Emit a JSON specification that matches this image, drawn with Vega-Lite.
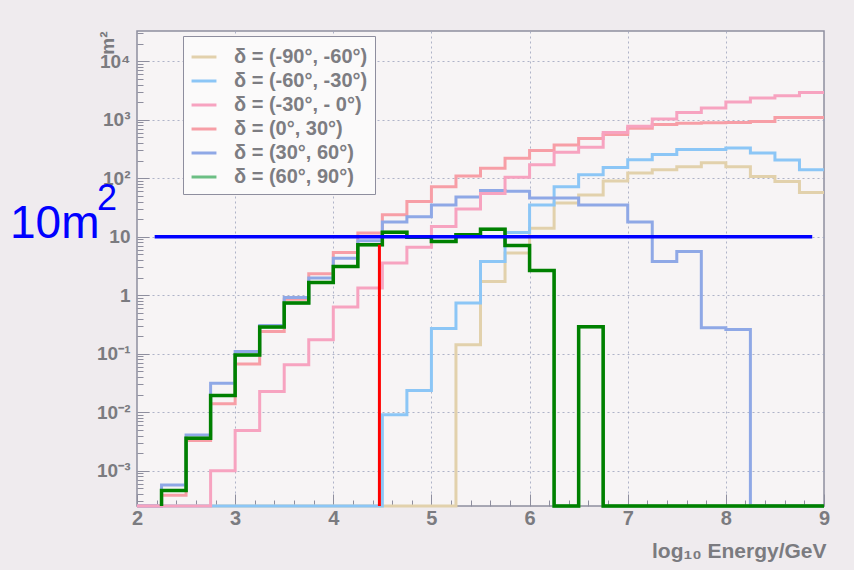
{
  "$schema": "https://vega.github.io/schema/vega-lite/v6.json",
  "width": 687,
  "height": 475,
  "autosize": {"type": "none"},
  "padding": {"left": 137, "top": 31, "right": 30, "bottom": 64},
  "background": "#efebee",
  "config": {
    "view": {"fill": "#f7f4f5", "stroke": "#8e8e9e", "strokeWidth": 1.5},
    "font": "Liberation Sans",
    "axis": {"labelFont": "Liberation Sans", "labelFontWeight": "bold", "labelColor": "#7b7b80", "tickColor": "#8e8e9e", "domain": false, "titleFont": "Liberation Sans", "titleColor": "#7b7b80", "titleFontWeight": "bold"}
  },
  "datasets": {
    "h": [
      {"s": "(-90°, -60°)", "x": 2, "v": 0.00025},
      {"s": "(-90°, -60°)", "x": 2.25, "v": 0.00025},
      {"s": "(-90°, -60°)", "x": 2.5, "v": 0.00025},
      {"s": "(-90°, -60°)", "x": 2.75, "v": 0.00025},
      {"s": "(-90°, -60°)", "x": 3, "v": 0.00025},
      {"s": "(-90°, -60°)", "x": 3.25, "v": 0.00025},
      {"s": "(-90°, -60°)", "x": 3.5, "v": 0.00025},
      {"s": "(-90°, -60°)", "x": 3.75, "v": 0.00025},
      {"s": "(-90°, -60°)", "x": 4, "v": 0.00025},
      {"s": "(-90°, -60°)", "x": 4.25, "v": 0.00025},
      {"s": "(-90°, -60°)", "x": 4.5, "v": 0.00025},
      {"s": "(-90°, -60°)", "x": 4.75, "v": 0.00025},
      {"s": "(-90°, -60°)", "x": 5, "v": 0.00025},
      {"s": "(-90°, -60°)", "x": 5.25, "v": 0.143},
      {"s": "(-90°, -60°)", "x": 5.5, "v": 1.72},
      {"s": "(-90°, -60°)", "x": 5.75, "v": 5.3},
      {"s": "(-90°, -60°)", "x": 6, "v": 14},
      {"s": "(-90°, -60°)", "x": 6.25, "v": 38},
      {"s": "(-90°, -60°)", "x": 6.5, "v": 52},
      {"s": "(-90°, -60°)", "x": 6.75, "v": 90},
      {"s": "(-90°, -60°)", "x": 7, "v": 123},
      {"s": "(-90°, -60°)", "x": 7.25, "v": 140},
      {"s": "(-90°, -60°)", "x": 7.5, "v": 157},
      {"s": "(-90°, -60°)", "x": 7.75, "v": 184},
      {"s": "(-90°, -60°)", "x": 8, "v": 157},
      {"s": "(-90°, -60°)", "x": 8.25, "v": 107},
      {"s": "(-90°, -60°)", "x": 8.5, "v": 88},
      {"s": "(-90°, -60°)", "x": 8.75, "v": 57},
      {"s": "(-90°, -60°)", "x": 9, "v": 57},

      {"s": "(-60°, -30°)", "x": 2, "v": 0.00025},
      {"s": "(-60°, -30°)", "x": 2.25, "v": 0.00025},
      {"s": "(-60°, -30°)", "x": 2.5, "v": 0.00025},
      {"s": "(-60°, -30°)", "x": 2.75, "v": 0.00025},
      {"s": "(-60°, -30°)", "x": 3, "v": 0.00025},
      {"s": "(-60°, -30°)", "x": 3.25, "v": 0.00025},
      {"s": "(-60°, -30°)", "x": 3.5, "v": 0.00025},
      {"s": "(-60°, -30°)", "x": 3.75, "v": 0.00025},
      {"s": "(-60°, -30°)", "x": 4, "v": 0.00025},
      {"s": "(-60°, -30°)", "x": 4.25, "v": 0.00025},
      {"s": "(-60°, -30°)", "x": 4.5, "v": 0.0091},
      {"s": "(-60°, -30°)", "x": 4.75, "v": 0.0236},
      {"s": "(-60°, -30°)", "x": 5, "v": 0.27},
      {"s": "(-60°, -30°)", "x": 5.25, "v": 0.74},
      {"s": "(-60°, -30°)", "x": 5.5, "v": 3.8},
      {"s": "(-60°, -30°)", "x": 5.75, "v": 11.9},
      {"s": "(-60°, -30°)", "x": 6, "v": 35},
      {"s": "(-60°, -30°)", "x": 6.25, "v": 72},
      {"s": "(-60°, -30°)", "x": 6.5, "v": 115},
      {"s": "(-60°, -30°)", "x": 6.75, "v": 153},
      {"s": "(-60°, -30°)", "x": 7, "v": 207},
      {"s": "(-60°, -30°)", "x": 7.25, "v": 255},
      {"s": "(-60°, -30°)", "x": 7.5, "v": 310},
      {"s": "(-60°, -30°)", "x": 7.75, "v": 310},
      {"s": "(-60°, -30°)", "x": 8, "v": 330},
      {"s": "(-60°, -30°)", "x": 8.25, "v": 272},
      {"s": "(-60°, -30°)", "x": 8.5, "v": 205},
      {"s": "(-60°, -30°)", "x": 8.75, "v": 140},
      {"s": "(-60°, -30°)", "x": 9, "v": 140},

      {"s": "(0°, 30°)", "x": 2, "v": 0.00025},
      {"s": "(0°, 30°)", "x": 2.25, "v": 0.00038},
      {"s": "(0°, 30°)", "x": 2.5, "v": 0.0033},
      {"s": "(0°, 30°)", "x": 2.75, "v": 0.014},
      {"s": "(0°, 30°)", "x": 3, "v": 0.067},
      {"s": "(0°, 30°)", "x": 3.25, "v": 0.24},
      {"s": "(0°, 30°)", "x": 3.5, "v": 0.86},
      {"s": "(0°, 30°)", "x": 3.75, "v": 2.33},
      {"s": "(0°, 30°)", "x": 4, "v": 5.4},
      {"s": "(0°, 30°)", "x": 4.25, "v": 11.6},
      {"s": "(0°, 30°)", "x": 4.5, "v": 23.8},
      {"s": "(0°, 30°)", "x": 4.75, "v": 40},
      {"s": "(0°, 30°)", "x": 5, "v": 72},
      {"s": "(0°, 30°)", "x": 5.25, "v": 110},
      {"s": "(0°, 30°)", "x": 5.5, "v": 149},
      {"s": "(0°, 30°)", "x": 5.75, "v": 221},
      {"s": "(0°, 30°)", "x": 6, "v": 300},
      {"s": "(0°, 30°)", "x": 6.25, "v": 370},
      {"s": "(0°, 30°)", "x": 6.5, "v": 480},
      {"s": "(0°, 30°)", "x": 6.75, "v": 560},
      {"s": "(0°, 30°)", "x": 7, "v": 720},
      {"s": "(0°, 30°)", "x": 7.25, "v": 830},
      {"s": "(0°, 30°)", "x": 7.5, "v": 870},
      {"s": "(0°, 30°)", "x": 7.75, "v": 890},
      {"s": "(0°, 30°)", "x": 8, "v": 900},
      {"s": "(0°, 30°)", "x": 8.25, "v": 935},
      {"s": "(0°, 30°)", "x": 8.5, "v": 1100},
      {"s": "(0°, 30°)", "x": 8.75, "v": 1100},
      {"s": "(0°, 30°)", "x": 9, "v": 1100},

      {"s": "(30°, 60°)", "x": 2, "v": 0.00025},
      {"s": "(30°, 60°)", "x": 2.25, "v": 0.00057},
      {"s": "(30°, 60°)", "x": 2.5, "v": 0.0041},
      {"s": "(30°, 60°)", "x": 2.75, "v": 0.0315},
      {"s": "(30°, 60°)", "x": 3, "v": 0.11},
      {"s": "(30°, 60°)", "x": 3.25, "v": 0.305},
      {"s": "(30°, 60°)", "x": 3.5, "v": 0.92},
      {"s": "(30°, 60°)", "x": 3.75, "v": 1.97},
      {"s": "(30°, 60°)", "x": 4, "v": 4.3},
      {"s": "(30°, 60°)", "x": 4.25, "v": 8.6},
      {"s": "(30°, 60°)", "x": 4.5, "v": 18},
      {"s": "(30°, 60°)", "x": 4.75, "v": 22},
      {"s": "(30°, 60°)", "x": 5, "v": 35},
      {"s": "(30°, 60°)", "x": 5.25, "v": 48},
      {"s": "(30°, 60°)", "x": 5.5, "v": 62},
      {"s": "(30°, 60°)", "x": 5.75, "v": 60},
      {"s": "(30°, 60°)", "x": 6, "v": 46},
      {"s": "(30°, 60°)", "x": 6.25, "v": 46},
      {"s": "(30°, 60°)", "x": 6.5, "v": 35},
      {"s": "(30°, 60°)", "x": 6.75, "v": 35},
      {"s": "(30°, 60°)", "x": 7, "v": 18},
      {"s": "(30°, 60°)", "x": 7.25, "v": 3.8},
      {"s": "(30°, 60°)", "x": 7.5, "v": 5.6},
      {"s": "(30°, 60°)", "x": 7.75, "v": 0.28},
      {"s": "(30°, 60°)", "x": 8, "v": 0.26},
      {"s": "(30°, 60°)", "x": 8.25, "v": 0.00025},
      {"s": "(30°, 60°)", "x": 8.5, "v": 0.00025},
      {"s": "(30°, 60°)", "x": 8.75, "v": 0.00025},
      {"s": "(30°, 60°)", "x": 9, "v": 0.00025},

      {"s": "(-30°, - 0°)", "x": 2, "v": 0.00025},
      {"s": "(-30°, - 0°)", "x": 2.25, "v": 0.00025},
      {"s": "(-30°, - 0°)", "x": 2.5, "v": 0.00025},
      {"s": "(-30°, - 0°)", "x": 2.75, "v": 0.001},
      {"s": "(-30°, - 0°)", "x": 3, "v": 0.0049},
      {"s": "(-30°, - 0°)", "x": 3.25, "v": 0.0227},
      {"s": "(-30°, - 0°)", "x": 3.5, "v": 0.065},
      {"s": "(-30°, - 0°)", "x": 3.75, "v": 0.173},
      {"s": "(-30°, - 0°)", "x": 4, "v": 0.63},
      {"s": "(-30°, - 0°)", "x": 4.25, "v": 1.33},
      {"s": "(-30°, - 0°)", "x": 4.5, "v": 3.55},
      {"s": "(-30°, - 0°)", "x": 4.75, "v": 6.6},
      {"s": "(-30°, - 0°)", "x": 5, "v": 15},
      {"s": "(-30°, - 0°)", "x": 5.25, "v": 30},
      {"s": "(-30°, - 0°)", "x": 5.5, "v": 55},
      {"s": "(-30°, - 0°)", "x": 5.75, "v": 104},
      {"s": "(-30°, - 0°)", "x": 6, "v": 170},
      {"s": "(-30°, - 0°)", "x": 6.25, "v": 280},
      {"s": "(-30°, - 0°)", "x": 6.5, "v": 340},
      {"s": "(-30°, - 0°)", "x": 6.75, "v": 610},
      {"s": "(-30°, - 0°)", "x": 7, "v": 780},
      {"s": "(-30°, - 0°)", "x": 7.25, "v": 1030},
      {"s": "(-30°, - 0°)", "x": 7.5, "v": 1330},
      {"s": "(-30°, - 0°)", "x": 7.75, "v": 1590},
      {"s": "(-30°, - 0°)", "x": 8, "v": 2010},
      {"s": "(-30°, - 0°)", "x": 8.25, "v": 2350},
      {"s": "(-30°, - 0°)", "x": 8.5, "v": 2570},
      {"s": "(-30°, - 0°)", "x": 8.75, "v": 2930},
      {"s": "(-30°, - 0°)", "x": 9, "v": 2930},

      {"s": "(60°, 90°)", "x": 2.25, "v": 0.00025},
      {"s": "(60°, 90°)", "x": 2.25, "v": 0.00046},
      {"s": "(60°, 90°)", "x": 2.5, "v": 0.0036},
      {"s": "(60°, 90°)", "x": 2.75, "v": 0.0194},
      {"s": "(60°, 90°)", "x": 3, "v": 0.095},
      {"s": "(60°, 90°)", "x": 3.25, "v": 0.286},
      {"s": "(60°, 90°)", "x": 3.5, "v": 0.74},
      {"s": "(60°, 90°)", "x": 3.75, "v": 1.65},
      {"s": "(60°, 90°)", "x": 4, "v": 3.1},
      {"s": "(60°, 90°)", "x": 4.25, "v": 7.3},
      {"s": "(60°, 90°)", "x": 4.5, "v": 12},
      {"s": "(60°, 90°)", "x": 4.75, "v": 9.8},
      {"s": "(60°, 90°)", "x": 5, "v": 8.3},
      {"s": "(60°, 90°)", "x": 5.25, "v": 10.8},
      {"s": "(60°, 90°)", "x": 5.5, "v": 13.5},
      {"s": "(60°, 90°)", "x": 5.75, "v": 7.1},
      {"s": "(60°, 90°)", "x": 6, "v": 2.65},
      {"s": "(60°, 90°)", "x": 6.25, "v": 0.00025},
      {"s": "(60°, 90°)", "x": 6.5, "v": 0.29},
      {"s": "(60°, 90°)", "x": 6.75, "v": 0.00025},
      {"s": "(60°, 90°)", "x": 7, "v": 0.00025},
      {"s": "(60°, 90°)", "x": 7.25, "v": 0.00025},
      {"s": "(60°, 90°)", "x": 7.5, "v": 0.00025},
      {"s": "(60°, 90°)", "x": 7.75, "v": 0.00025},
      {"s": "(60°, 90°)", "x": 8, "v": 0.00025},
      {"s": "(60°, 90°)", "x": 8.25, "v": 0.00025},
      {"s": "(60°, 90°)", "x": 8.5, "v": 0.00025},
      {"s": "(60°, 90°)", "x": 8.75, "v": 0.00025},
      {"s": "(60°, 90°)", "x": 9, "v": 0.00025}
    ]
  },
  "layer": [
    {
      "data": {"name": "h"},
      "mark": {"type": "line", "interpolate": "step-after", "strokeWidth": 3},
      "encoding": {
        "x": {
          "field": "x", "type": "quantitative",
          "scale": {"domain": [2, 9], "nice": false, "zero": false},
          "axis": {
            "values": [2, 2.2, 2.4, 2.6, 2.8, 3, 3.2, 3.4, 3.6, 3.8, 4, 4.2, 4.4, 4.6, 4.8, 5, 5.2, 5.4, 5.6, 5.8, 6, 6.2, 6.4, 6.6, 6.8, 7, 7.2, 7.4, 7.6, 7.8, 8, 8.2, 8.4, 8.6, 8.8, 9],
            "tickCount": 200,
            "labelExpr": "abs(datum.value - round(datum.value)) < 0.01 ? format(datum.value, 'd') : ''",
            "tickSize": {"condition": {"test": "abs(datum.value - round(datum.value)) < 0.01", "value": -12}, "value": -6},
            "grid": true,
            "gridDash": [2, 3],
            "gridColor": "#9ca2bd",
            "gridOpacity": {"condition": {"test": "abs(datum.value - round(datum.value)) < 0.01 && datum.value > 2.5 && datum.value < 8.5", "value": 0.8}, "value": 0},
            "labelFontSize": 20,
            "labelPadding": 14,
            "labelOverlap": false,
            "labelFlush": false,
            "labelBound": false,
            "title": "log₁₀ Energy/GeV",
            "titleFontSize": 21,
            "titleAnchor": "end",
            "titleAlign": "right",
            "titleX": 689,
            "titleY": 51,
            "titleBaseline": "alphabetic"
          }
        },
        "y": {
          "field": "v", "type": "quantitative",
          "scale": {"type": "log", "domain": [0.00025, 33000], "nice": false},
          "axis": {
            "values": [0.0003, 0.0004, 0.0005, 0.0006, 0.0007, 0.0008, 0.0009, 0.001, 0.002, 0.003, 0.004, 0.005, 0.006, 0.007, 0.008, 0.009, 0.01, 0.02, 0.03, 0.04, 0.05, 0.06, 0.07, 0.08, 0.09, 0.1, 0.2, 0.3, 0.4, 0.5, 0.6, 0.7, 0.8, 0.9, 1, 2, 3, 4, 5, 6, 7, 8, 9, 10, 20, 30, 40, 50, 60, 70, 80, 90, 100, 200, 300, 400, 500, 600, 700, 800, 900, 1000, 2000, 3000, 4000, 5000, 6000, 7000, 8000, 9000, 10000, 20000, 30000],
            "tickCount": 200,
            "labelExpr": "abs(log(datum.value)/LN10 - round(log(datum.value)/LN10)) > 0.01 ? '' : round(log(datum.value)/LN10) == 4 ? '10⁴' : round(log(datum.value)/LN10) == 3 ? '10³' : round(log(datum.value)/LN10) == 2 ? '10²' : round(log(datum.value)/LN10) == 1 ? '10' : round(log(datum.value)/LN10) == 0 ? '1' : round(log(datum.value)/LN10) == -1 ? '10⁻¹' : round(log(datum.value)/LN10) == -2 ? '10⁻²' : '10⁻³'",
            "tickSize": {"condition": {"test": "abs(log(datum.value)/LN10 - round(log(datum.value)/LN10)) < 0.01", "value": -12}, "value": -6},
            "grid": true,
            "gridDash": [2, 3],
            "gridColor": "#9ca2bd",
            "gridOpacity": {"condition": {"test": "abs(log(datum.value)/LN10 - round(log(datum.value)/LN10)) < 0.01", "value": 0.8}, "value": 0},
            "labelFontSize": 19,
            "labelPadding": 19,
            "labelOverlap": false,
            "title": "m²",
            "titleFontSize": 19,
            "titleAngle": -90,
            "titleAlign": "right",
            "titleBaseline": "middle",
            "titleX": -30,
            "titleY": 0
          }
        },
        "color": {
          "field": "s", "type": "nominal",
          "scale": {
            "domain": ["(-90°, -60°)", "(-60°, -30°)", "(-30°, - 0°)", "(0°, 30°)", "(30°, 60°)", "(60°, 90°)"],
            "range": ["#e2d1ac", "#8cc6f6", "#f7a3c0", "#f79ea6", "#8fa8e6", "#6cbf84"]
          },
          "legend": {
            "orient": "none",
            "legendX": 46,
            "legendY": 5,
            "title": null,
            "fillColor": "#fbfafa",
            "strokeColor": "#8e8e9e",
            "padding": 7,
            "symbolType": "stroke",
            "symbolStrokeWidth": 3,
            "symbolSize": 620,
            "labelFont": "Liberation Sans",
            "labelFontSize": 20,
            "labelFontWeight": "bold",
            "labelColor": "#7d7d82",
            "labelLimit": 320,
            "labelExpr": "'δ = ' + datum.label",
            "labelOffset": 16,
            "rowPadding": -3
          }
        }
      }
    },
    {
      "data": {"name": "h"},
      "transform": [{"filter": "datum.s == '(60°, 90°)'"}],
      "mark": {"type": "line", "interpolate": "step-after", "strokeWidth": 3.5, "color": "#008000"},
      "encoding": {
        "x": {"field": "x", "type": "quantitative"},
        "y": {"field": "v", "type": "quantitative"}
      }
    },
    {
      "data": {"values": [{"x": 4.47, "v": 0.00025, "v2": 7.3}]},
      "mark": {"type": "rule", "color": "#ff0000", "strokeWidth": 3},
      "encoding": {
        "x": {"field": "x", "type": "quantitative"},
        "y": {"field": "v", "type": "quantitative"},
        "y2": {"field": "v2"}
      }
    },
    {
      "data": {"values": [{"x": 2.18, "x2": 8.88, "v": 10}]},
      "mark": {"type": "rule", "color": "#0000ff", "strokeWidth": 3.5},
      "encoding": {
        "x": {"field": "x", "type": "quantitative"},
        "x2": {"field": "x2"},
        "y": {"field": "v", "type": "quantitative"}
      }
    },
    {
      "data": {"values": [{"x": 0.706, "v": 9.54, "t": "10m", "fs": "big"}, {"x": 1.592, "v": 28.7, "t": "2", "fs": "sup"}]},
      "mark": {"type": "text", "align": "left", "baseline": "alphabetic", "color": "#0000ff", "font": "Liberation Sans"},
      "encoding": {
        "x": {"field": "x", "type": "quantitative"},
        "y": {"field": "v", "type": "quantitative"},
        "text": {"field": "t"},
        "size": {"field": "fs", "type": "nominal", "scale": {"domain": ["big", "sup"], "range": [46, 36]}, "legend": null}
      }
    }
  ]
}
